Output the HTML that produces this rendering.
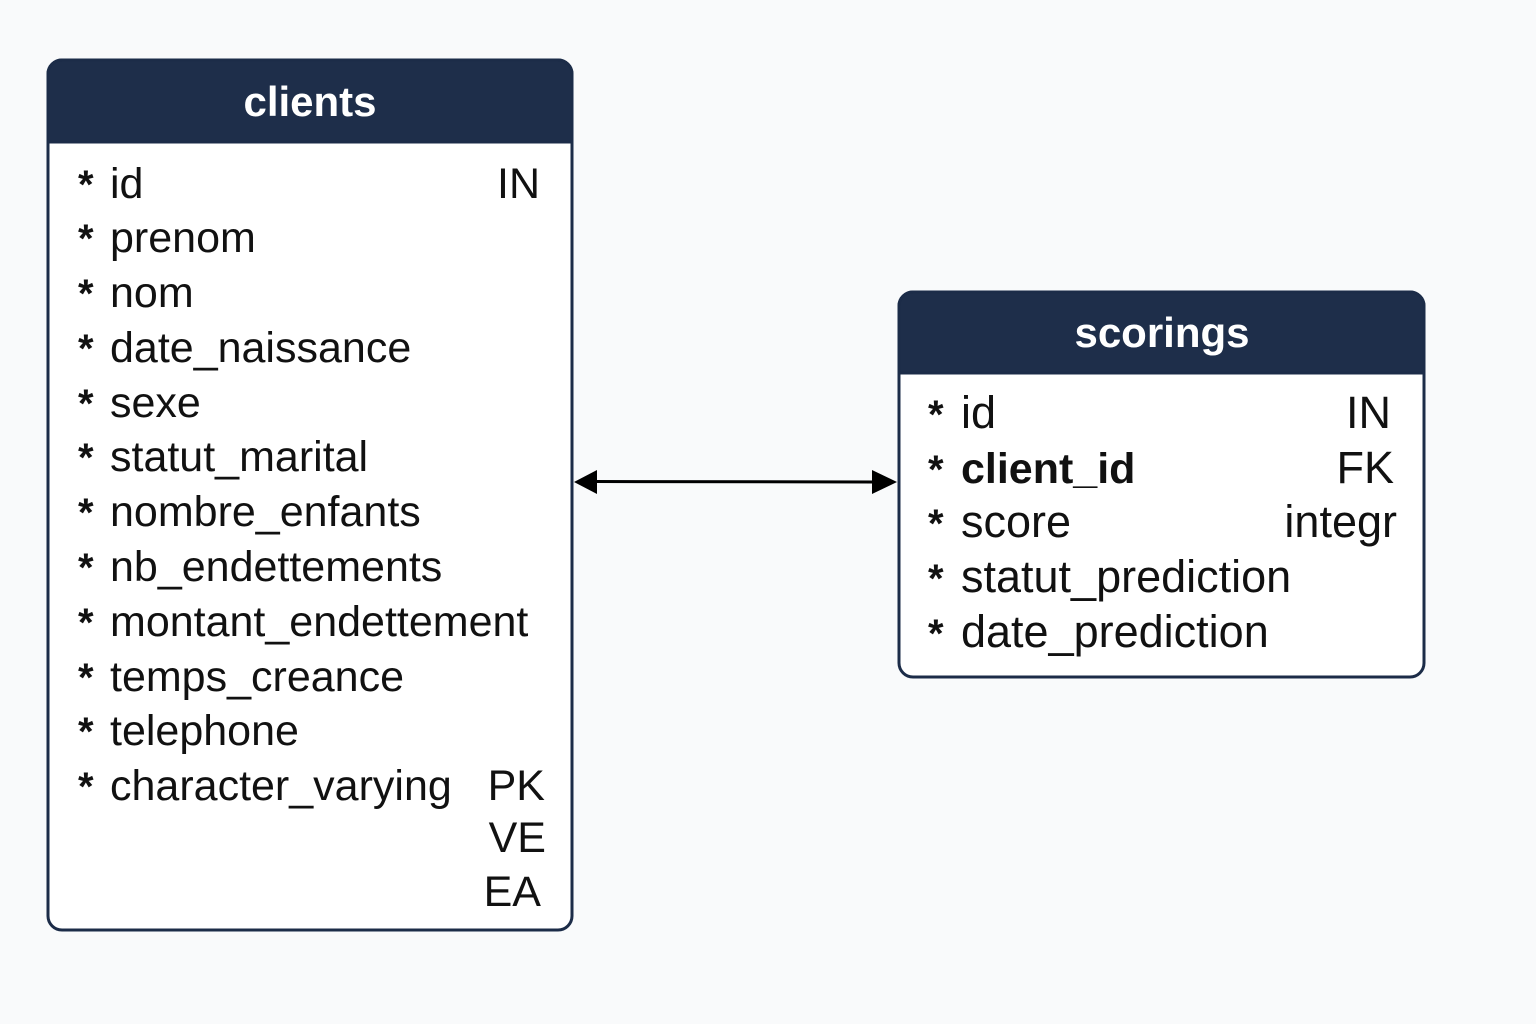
<!DOCTYPE html>
<html><head><meta charset="utf-8"><style>
html,body{margin:0;padding:0;background:#f9fafb;}
svg{display:block;}
text{font-family:"Liberation Sans",sans-serif;}
</style></head><body>
<svg width="1536" height="1024" viewBox="0 0 1536 1024" xmlns="http://www.w3.org/2000/svg">
<rect width="1536" height="1024" fill="#f9fafb"/>
<rect x="48" y="60" width="524" height="870" rx="14" fill="#fff" stroke="#1c2c48" stroke-width="3"/>
<path d="M48 142 V74 A14 14 0 0 1 62 60 H558 A14 14 0 0 1 572 74 V142 Z" fill="#1e2e4a" stroke="#1c2c48" stroke-width="3"/>
<text x="310" y="116" font-size="42" font-weight="bold" fill="#fff" text-anchor="middle">clients</text>
<g font-size="43" fill="#111">
<g font-weight="bold" font-size="40">
<text x="78" y="198">*</text><text x="78" y="252">*</text><text x="78" y="307">*</text><text x="78" y="362">*</text><text x="78" y="417">*</text><text x="78" y="471">*</text><text x="78" y="526">*</text><text x="78" y="581">*</text><text x="78" y="636">*</text><text x="78" y="691">*</text><text x="78" y="745">*</text><text x="78" y="800">*</text>
</g>
<text x="110" y="198">id</text>
<text x="110" y="252">prenom</text>
<text x="110" y="307">nom</text>
<text x="110" y="362">date_naissance</text>
<text x="110" y="417">sexe</text>
<text x="110" y="471">statut_marital</text>
<text x="110" y="526">nombre_enfants</text>
<text x="110" y="581">nb_endettements</text>
<text x="110" y="636">montant_endettement</text>
<text x="110" y="691">temps_creance</text>
<text x="110" y="745">telephone</text>
<text x="110" y="800">character_varying</text>
<text x="540" y="198" text-anchor="end">IN</text>
<text x="545" y="800" text-anchor="end">PK</text>
<text x="546" y="852" text-anchor="end">VE</text>
<text x="541" y="906" text-anchor="end">EA</text>
</g>
<rect x="899" y="292" width="525" height="385" rx="14" fill="#fff" stroke="#1c2c48" stroke-width="3"/>
<path d="M899 373 V306 A14 14 0 0 1 913 292 H1410 A14 14 0 0 1 1424 306 V373 Z" fill="#1e2e4a" stroke="#1c2c48" stroke-width="3"/>
<text x="1162" y="347" font-size="42" font-weight="bold" fill="#fff" text-anchor="middle">scorings</text>
<g font-size="45" fill="#111">
<g font-weight="bold" font-size="40">
<text x="928" y="428">*</text><text x="928" y="483">*</text><text x="928" y="537">*</text><text x="928" y="592">*</text><text x="928" y="647">*</text>
</g>
<text x="961" y="428">id</text>
<text x="961" y="483" font-weight="bold" font-size="43">client_id</text>
<text x="961" y="537">score</text>
<text x="961" y="592">statut_prediction</text>
<text x="961" y="647">date_prediction</text>
<text x="1391" y="428" text-anchor="end">IN</text>
<text x="1394" y="483" text-anchor="end">FK</text>
<text x="1397" y="537" text-anchor="end">integr</text>
</g>
<line x1="595" y1="481.5" x2="875" y2="482" stroke="#000" stroke-width="3"/>
<polygon points="574,482 597,470 597,494" fill="#000"/>
<polygon points="897,482 872,470 872,494" fill="#000"/>
</svg>
</body></html>
